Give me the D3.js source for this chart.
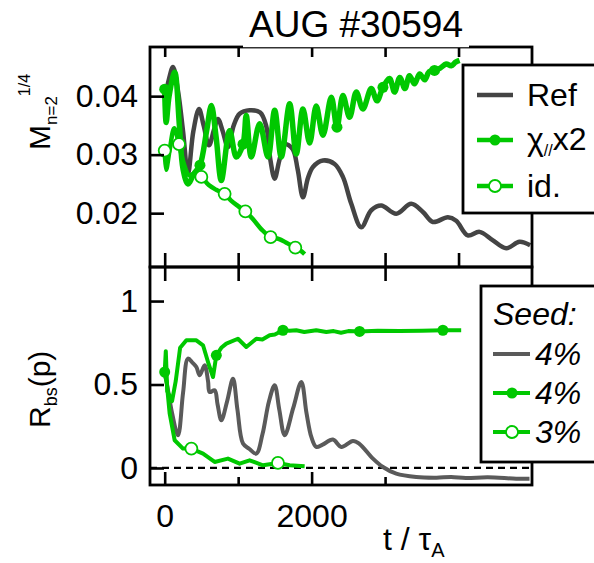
<!DOCTYPE html>
<html><head><meta charset="utf-8">
<script src="https://cdn.jsdelivr.net/npm/d3@7"></script>
<style>
html,body{margin:0;padding:0;background:#fff;}
svg{display:block;font-family:"Liberation Sans",Arial,sans-serif;}
</style></head>
<body><svg id="c" width="594" height="563"></svg>
<script>
// ---------- data (t / tau_A, value) ----------
const title = "AUG #30594";
const topYTicks = [0.02, 0.03, 0.04];
const botYTicks = [0, 0.5, 1];
const xTicksTop = [0, 1000, 2000, 3000, 4000];
const xTicksBotEdge = [0, 1000, 2000, 3000];
const xMajorLabels = [0, 2000];
const xMinor = [1000, 3000];

// Top panel: M_{n=2}^{1/4}
const refTop = [[0,0.0395],[60,0.0430],[113,0.0450],[180,0.0410],[250,0.0340],[317,0.0267],[390,0.0340],[467,0.0378],[530,0.0350],[603,0.0316],[670,0.0342],[725,0.0361],[790,0.0340],[861,0.0313],[940,0.0350],[1020,0.0370],[1156,0.0376],[1300,0.0372],[1380,0.0350],[1440,0.0290],[1497,0.0259],[1560,0.0290],[1633,0.0318],[1740,0.0310],[1810,0.0275],[1882,0.0227],[1950,0.0260],[2018,0.0279],[2154,0.0290],[2313,0.0284],[2426,0.0262],[2540,0.0216],[2676,0.0176],[2812,0.0205],[2948,0.0213],[3152,0.0199],[3356,0.0216],[3515,0.0202],[3651,0.0185],[3855,0.0193],[3968,0.0187],[4126,0.0162],[4286,0.0168],[4463,0.0154],[4649,0.0140],[4830,0.0151],[4975,0.0145]];
const chiTop = [[0,0.0412],[20,0.0355],[60,0.0400],[136,0.0441],[200,0.0350],[250,0.0275],[317,0.0250],[400,0.0268],[480,0.0282],[570,0.0340],[635,0.0384],[700,0.0330],[771,0.0256],[884,0.0341],[975,0.0296],[1066,0.0318],[1110,0.0367],[1179,0.0296],[1293,0.0353],[1406,0.0296],[1497,0.0376],[1587,0.0296],[1701,0.0387],[1791,0.0301],[1882,0.0378],[1973,0.0320],[2063,0.0383],[2154,0.0333],[2268,0.0398],[2345,0.0347],[2426,0.0401],[2517,0.0364],[2608,0.0407],[2698,0.0378],[2812,0.0413],[2890,0.0392],[2971,0.0415],[3061,0.0430],[3129,0.0407],[3200,0.0432],[3270,0.0413],[3333,0.0435],[3400,0.0421],[3470,0.0438],[3540,0.0428],[3600,0.0442],[3673,0.0444],[3750,0.0448],[3832,0.0455],[3900,0.0452],[3960,0.0458],[4014,0.0461]];
const chiTopMarks = [[0,0.0412],[480,0.0282],[1066,0.0318],[2345,0.0347],[2971,0.0415],[3673,0.0444]];
const idTop = [[0,0.0307],[20,0.0274],[70,0.0310],[130,0.0345],[195,0.0318],[260,0.0285],[330,0.0265],[420,0.0268],[499,0.0262],[600,0.0248],[700,0.0240],[816,0.0233],[900,0.0222],[1000,0.0212],[1098,0.0203],[1200,0.0190],[1320,0.0172],[1442,0.0159],[1550,0.0156],[1650,0.0150],[1778,0.0141],[1850,0.0136],[1905,0.0130]];
const idTopMarks = [[0,0.0307],[195,0.0318],[499,0.0262],[816,0.0233],[1098,0.0203],[1442,0.0159],[1778,0.0141]];

// Bottom panel: R_bs(p)
const refBot = [[0,0.56],[23,0.52],[100,0.33],[181,0.196],[250,0.45],[317,0.655],[380,0.63],[431,0.605],[476,0.555],[544,0.615],[590,0.52],[612,0.455],[680,0.465],[720,0.38],[771,0.286],[850,0.40],[930,0.535],[990,0.35],[1066,0.146],[1150,0.115],[1247,0.086],[1330,0.20],[1420,0.40],[1497,0.495],[1560,0.35],[1633,0.196],[1750,0.36],[1860,0.515],[1930,0.33],[1996,0.186],[2063,0.126],[2150,0.140],[2290,0.170],[2404,0.126],[2562,0.162],[2650,0.145],[2835,0.056],[2971,0.006],[3152,-0.034],[3424,-0.054],[3700,-0.058],[3900,-0.054],[4100,-0.060],[4400,-0.056],[4785,-0.064],[4966,-0.064]];
const chiBot = [[0,0.575],[15,0.70],[35,0.46],[100,0.40],[150,0.52],[210,0.72],[295,0.765],[431,0.765],[522,0.735],[600,0.62],[658,0.545],[703,0.675],[770,0.72],[839,0.745],[997,0.774],[1111,0.725],[1247,0.774],[1330,0.77],[1429,0.795],[1500,0.80],[1610,0.825],[1700,0.822],[1791,0.825],[1900,0.815],[2063,0.825],[2200,0.815],[2300,0.82],[2400,0.81],[2500,0.82],[2653,0.818],[2900,0.822],[3200,0.82],[3500,0.822],[3787,0.825],[4036,0.825]];
const chiBotMarks = [[0,0.575],[703,0.675],[1610,0.825],[2653,0.818],[3787,0.825]];
const idBot = [[0,0.58],[30,0.50],[68,0.325],[136,0.166],[249,0.116],[363,0.116],[522,0.086],[680,0.036],[861,0.056],[1020,0.026],[1156,0.046],[1338,0.016],[1542,0.030],[1701,0.016],[1905,0.010]];
const idBotMarks = [[363,0.116],[1542,0.030]];

const legTopLabels = ["Ref", "χ", "id."];
const legBotLabels = ["Seed:", "4%", "4%", "3%"];

// ---------- layout ----------
const GREEN = "#00c800", GRAY1 = "#444444", GRAY2 = "#5a5a5a";
const L = 150, R = 532, T1 = 47, MID = 267, B2 = 485;
const svg = d3.select("#c");

const x = d3.scaleLinear().domain([-200, 5000]).range([L, R]);
const yT = d3.scaleLinear().domain([0.0108, 0.0484]).range([MID, T1]);
const yB = d3.scaleLinear().domain([-0.102, 1.204]).range([B2, MID]);

const smooth = y => d3.line().x(d => x(d[0])).y(d => y(d[1])).curve(d3.curveCatmullRom.alpha(0.5));
const lin = y => d3.line().x(d => x(d[0])).y(d => y(d[1]));

// zero dashed line
svg.append("line").attr("x1", L).attr("x2", R).attr("y1", yB(0)).attr("y2", yB(0))
  .attr("stroke", "#000").attr("stroke-width", 2.2).attr("stroke-dasharray", "7,5");

// top series
svg.append("path").datum(refTop).attr("d", smooth(yT)).attr("fill", "none").attr("stroke", GRAY1).attr("stroke-width", 4.5).attr("stroke-linejoin", "round");
svg.append("path").datum(chiTop).attr("d", smooth(yT)).attr("fill", "none").attr("stroke", GREEN).attr("stroke-width", 5.5).attr("stroke-linejoin", "round");
svg.append("path").datum(idTop).attr("d", smooth(yT)).attr("fill", "none").attr("stroke", GREEN).attr("stroke-width", 4.5).attr("stroke-linejoin", "round");
svg.selectAll(".mt1").data(chiTopMarks).join("circle").attr("cx", d => x(d[0])).attr("cy", d => yT(d[1])).attr("r", 5.5).attr("fill", GREEN);
svg.selectAll(".mt2").data(idTopMarks).join("circle").attr("cx", d => x(d[0])).attr("cy", d => yT(d[1])).attr("r", 6).attr("fill", "#fff").attr("stroke", GREEN).attr("stroke-width", 1.8);

// bottom series
svg.append("path").datum(refBot).attr("d", smooth(yB)).attr("fill", "none").attr("stroke", GRAY2).attr("stroke-width", 4).attr("stroke-linejoin", "round");
svg.append("path").datum(chiBot).attr("d", lin(yB)).attr("fill", "none").attr("stroke", GREEN).attr("stroke-width", 4).attr("stroke-linejoin", "round");
svg.append("path").datum(idBot).attr("d", lin(yB)).attr("fill", "none").attr("stroke", GREEN).attr("stroke-width", 4).attr("stroke-linejoin", "round");
svg.selectAll(".mb1").data(chiBotMarks).join("circle").attr("cx", d => x(d[0])).attr("cy", d => yB(d[1])).attr("r", 5.5).attr("fill", GREEN);
svg.selectAll(".mb2").data(idBotMarks).join("circle").attr("cx", d => x(d[0])).attr("cy", d => yB(d[1])).attr("r", 6).attr("fill", "#fff").attr("stroke", GREEN).attr("stroke-width", 1.8);

// frames
svg.append("rect").attr("x", L).attr("y", T1).attr("width", R - L).attr("height", MID - T1).attr("fill", "none").attr("stroke", "#000").attr("stroke-width", 2.8);
svg.append("rect").attr("x", L).attr("y", MID).attr("width", R - L).attr("height", B2 - MID).attr("fill", "none").attr("stroke", "#000").attr("stroke-width", 2.8);

function styleAxis(g, fs) {
  g.select(".domain").remove();
  g.selectAll(".tick line").attr("stroke", "#000").attr("stroke-width", 2.6);
  g.selectAll(".tick text").attr("fill", "#000").attr("font-size", fs).attr("font-family", "Liberation Sans, Arial, sans-serif");
}
// y axes
svg.append("g").attr("transform", `translate(${L},0)`)
  .call(d3.axisLeft(yT).tickValues(topYTicks).tickSize(-14).tickPadding(12).tickFormat(d3.format(".2f")))
  .call(g => styleAxis(g, 32));
svg.append("g").attr("transform", `translate(${L},0)`)
  .call(d3.axisLeft(yB).tickValues(botYTicks).tickSize(-14).tickPadding(12).tickFormat(d => d === 0.5 ? "0.5" : d3.format("d")(d)))
  .call(g => styleAxis(g, 32));
// x edge ticks
svg.append("g").attr("transform", `translate(0,${T1})`)
  .call(d3.axisTop(x).tickValues(xTicksTop).tickSize(-10).tickFormat(""))
  .call(g => styleAxis(g, 32));
svg.append("g").attr("transform", `translate(0,${MID})`)
  .call(d3.axisBottom(x).tickValues(xTicksTop).tickSize(-14).tickFormat(""))
  .call(g => styleAxis(g, 32));
svg.append("g").attr("transform", `translate(0,${MID})`)
  .call(d3.axisTop(x).tickValues(xTicksBotEdge).tickSize(-14).tickFormat(""))
  .call(g => styleAxis(g, 32));
svg.append("g").attr("transform", `translate(0,${B2})`)
  .call(d3.axisBottom(x).tickValues(xMajorLabels).tickSize(-13).tickPadding(19).tickFormat(d3.format("d")))
  .call(g => styleAxis(g, 32));
svg.append("g").attr("transform", `translate(0,${B2})`)
  .call(d3.axisBottom(x).tickValues(xMinor).tickSize(-8).tickFormat(""))
  .call(g => styleAxis(g, 32));

// title with white backing (hides frame top behind it)
svg.append("rect").attr("x", 243).attr("y", 0).attr("width", 226).attr("height", 47.2).attr("fill", "#fff");
svg.append("text").attr("x", 356).attr("y", 37).attr("text-anchor", "middle").attr("font-size", 37).text(title);

// axis titles
const yl1 = svg.append("text").attr("transform", "translate(50,150) rotate(-90)").attr("font-size", 30);
yl1.append("tspan").text("M");
yl1.append("tspan").attr("font-size", 17).attr("dy", 7).text("n=2");
yl1.append("tspan").attr("font-size", 16).attr("dy", -27).text("1/4");
const yl2 = svg.append("text").attr("transform", "translate(50,428) rotate(-90)").attr("font-size", 30);
yl2.append("tspan").text("R");
yl2.append("tspan").attr("font-size", 18).attr("dy", 7).text("bs");
yl2.append("tspan").attr("dy", -7).text("(p)");
const xl = svg.append("text").attr("x", 383).attr("y", 550).attr("font-size", 32);
xl.append("tspan").text("t / τ");
xl.append("tspan").attr("font-size", 20).attr("dy", 7).text("A");

// top legend
const lt = svg.append("g");
lt.append("rect").attr("x", 463).attr("y", 65).attr("width", 140).attr("height", 148).attr("fill", "#fff").attr("stroke", "#000").attr("stroke-width", 2.8);
const ltY = [95, 140, 186];
lt.append("line").attr("x1", 477).attr("x2", 513).attr("y1", ltY[0]).attr("y2", ltY[0]).attr("stroke", GRAY1).attr("stroke-width", 4.5);
lt.append("line").attr("x1", 477).attr("x2", 513).attr("y1", ltY[1]).attr("y2", ltY[1]).attr("stroke", GREEN).attr("stroke-width", 4.5);
lt.append("circle").attr("cx", 495).attr("cy", ltY[1]).attr("r", 5.5).attr("fill", GREEN);
lt.append("line").attr("x1", 477).attr("x2", 513).attr("y1", ltY[2]).attr("y2", ltY[2]).attr("stroke", GREEN).attr("stroke-width", 4.5);
lt.append("circle").attr("cx", 495).attr("cy", ltY[2]).attr("r", 6).attr("fill", "#fff").attr("stroke", GREEN).attr("stroke-width", 1.8);
lt.append("text").attr("x", 527).attr("y", ltY[0] + 11).attr("font-size", 32).text(legTopLabels[0]);
const chiT = lt.append("text").attr("x", 527).attr("y", ltY[1] + 10).attr("font-size", 32);
chiT.append("tspan").text(legTopLabels[1]);
chiT.append("tspan").attr("font-size", 16).attr("dy", 6).text("//");
chiT.append("tspan").attr("dy", -6).text("x2");
lt.append("text").attr("x", 527).attr("y", ltY[2] + 11).attr("font-size", 32).text(legTopLabels[2]);

// bottom legend
const lb = svg.append("g");
lb.append("rect").attr("x", 481).attr("y", 286).attr("width", 122).attr("height", 176).attr("fill", "#fff").attr("stroke", "#000").attr("stroke-width", 2.8);
lb.append("text").attr("x", 493).attr("y", 325).attr("font-size", 32).attr("font-style", "italic").text(legBotLabels[0]);
const lbY = [354, 393, 432];
lb.append("line").attr("x1", 493).attr("x2", 530).attr("y1", lbY[0]).attr("y2", lbY[0]).attr("stroke", GRAY2).attr("stroke-width", 4);
lb.append("line").attr("x1", 493).attr("x2", 530).attr("y1", lbY[1]).attr("y2", lbY[1]).attr("stroke", GREEN).attr("stroke-width", 4);
lb.append("circle").attr("cx", 512).attr("cy", lbY[1]).attr("r", 5.5).attr("fill", GREEN);
lb.append("line").attr("x1", 493).attr("x2", 530).attr("y1", lbY[2]).attr("y2", lbY[2]).attr("stroke", GREEN).attr("stroke-width", 4);
lb.append("circle").attr("cx", 512).attr("cy", lbY[2]).attr("r", 6).attr("fill", "#fff").attr("stroke", GREEN).attr("stroke-width", 1.8);
[1, 2, 3].forEach((k, i) => {
  lb.append("text").attr("x", 535).attr("y", lbY[i] + 11).attr("font-size", 32).attr("font-style", "italic").text(legBotLabels[k]);
});
</script></body></html>
